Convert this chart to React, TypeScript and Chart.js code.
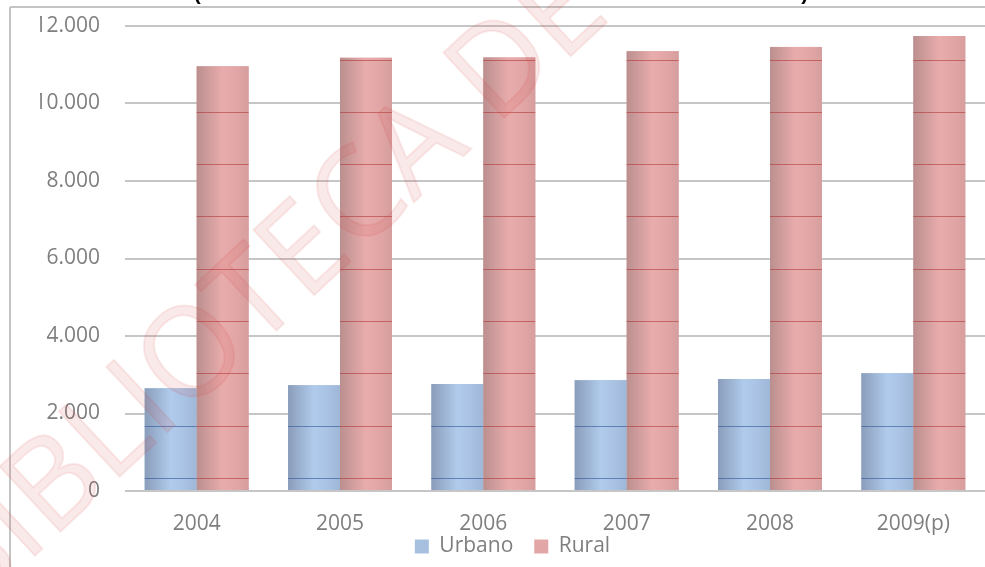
import { useEffect, useRef } from "react";
import { Chart, registerables } from "chart.js";

Chart.register(...registerables);

const categories = ["2004", "2005", "2006", "2007", "2008", "2009(p)"];
const seriesNames = ["Urbano", "Rural"];
const urbano = [2650, 2730, 2760, 2860, 2890, 3040];
const rural = [10960, 11180, 11190, 11350, 11460, 11740];
const yMin = 0;
const yMax = 12000;
const yStep = 2000;
// faint horizontal bands visible inside the bars of the scanned original
const bandLines = [335, 1685, 3035, 4385, 5735, 7085, 8435, 9785, 11135];
const watermarkText = "BIBLIOTECA DE";
const titleText = "(POBLACIÓN URBANA Y RURAL EN MILES DE HABITANTES)";

const fmt = (v: number) => String(v).replace(/\B(?=(\d{3})+(?!\d))/g, ".");

const gradStops: Record<number, [number, string][]> = {
  0: [
    [0, "#8a9dba"],
    [0.5, "#b0cbec"],
    [0.75, "#aac3e4"],
    [1, "#9fb7d7"],
  ],
  1: [
    [0, "#bb8f8f"],
    [0.5, "#e9acac"],
    [0.75, "#e3a6a6"],
    [1, "#d69e9e"],
  ],
};
const bandColors = ["rgba(45,85,150,0.6)", "rgba(175,45,45,0.55)"];

const decorPlugin = {
  id: "decor",
  beforeDraw(chart: any) {
    const ctx = chart.ctx;
    ctx.save();
    ctx.strokeStyle = "#c4c4c4";
    ctx.lineWidth = 2;
    ctx.beginPath();
    ctx.moveTo(10, 7);
    ctx.lineTo(chart.width, 7);
    ctx.moveTo(10, 7);
    ctx.lineTo(10, chart.height);
    ctx.stroke();
    ctx.restore();
  },
  afterDatasetsDraw(chart: any) {
    const ctx = chart.ctx;
    const yScale = chart.scales.y;
    ctx.save();
    chart.data.datasets.forEach((_ds: any, di: number) => {
      const meta = chart.getDatasetMeta(di);
      meta.data.forEach((el: any) => {
        const { x, y, base, width } = el.getProps(["x", "y", "base", "width"], true);
        const left = x - width / 2;
        const g = ctx.createLinearGradient(left, 0, left + width, 0);
        gradStops[di].forEach(([o, c]) => g.addColorStop(o, c));
        ctx.fillStyle = g;
        ctx.fillRect(left, y, width, base - y);
        ctx.strokeStyle = bandColors[di];
        ctx.lineWidth = 1;
        bandLines.forEach((v) => {
          const py = Math.round(yScale.getPixelForValue(v)) + 0.5;
          if (py > y + 1 && py < base) {
            ctx.beginPath();
            ctx.moveTo(left, py);
            ctx.lineTo(left + width, py);
            ctx.stroke();
          }
        });
      });
    });
    ctx.restore();
  },
  afterDraw(chart: any) {
    const ctx = chart.ctx;
    // title, mostly above the visible area
    ctx.save();
    let size = 24;
    ctx.font = `bold ${size}px "Liberation Sans"`;
    const w = ctx.measureText(titleText).width;
    size = (size * 615) / w;
    ctx.font = `bold ${size}px "Liberation Sans"`;
    ctx.fillStyle = "#000";
    ctx.textAlign = "center";
    ctx.textBaseline = "alphabetic";
    ctx.fillText(titleText, 501, 0);
    ctx.restore();
    // watermark
    ctx.save();
    ctx.translate(-33, 619);
    ctx.rotate((-43 * Math.PI) / 180);
    ctx.font = '400 125px "Open Sans"';
    ctx.textAlign = "left";
    ctx.textBaseline = "alphabetic";
    ctx.fillStyle = "rgba(215,70,70,0.12)";
    ctx.fillText(watermarkText, 0, 0);
    ctx.strokeStyle = "rgba(215,70,70,0.10)";
    ctx.lineWidth = 2;
    ctx.strokeText(watermarkText, 0, 0);
    ctx.restore();
  },
};

export default function App() {
  const ref = useRef<HTMLCanvasElement | null>(null);
  useEffect(() => {
    if (!ref.current) return;
    const chart = new Chart(ref.current, {
      type: "bar",
      data: {
        labels: categories,
        datasets: [
          { label: seriesNames[0], data: urbano, backgroundColor: "#a7c0e0", borderWidth: 0 },
          { label: seriesNames[1], data: rural, backgroundColor: "#e3a6a6", borderWidth: 0 },
        ],
      },
      options: {
        animation: false,
        responsive: false,
        devicePixelRatio: 1,
        layout: { padding: { left: 40, right: 0, top: 26, bottom: 0 } },
        datasets: { bar: { categoryPercentage: 0.725, barPercentage: 1.0 } },
        plugins: {
          legend: {
            position: "bottom",
            labels: {
              boxWidth: 14,
              boxHeight: 14,
              padding: 0,
              color: "#7f7f7f",
              font: { family: "Open Sans", size: 21 },
              generateLabels: (chart: any) => {
                const items = Chart.defaults.plugins.legend.labels.generateLabels(chart);
                return items.map((it: any, i: number) =>
                  i < items.length - 1 ? { ...it, text: it.text + "\u2003" } : it
                );
              },
            },
          },
          title: { display: false },
          tooltip: { enabled: false },
        },
        scales: {
          x: {
            grid: { display: false, drawTicks: false },
            border: { display: false },
            ticks: { color: "#7f7f7f", font: { family: "Open Sans", size: 21 }, padding: 20 },
            afterFit: (s: any) => {
              s.height = 45;
            },
          },
          y: {
            min: yMin,
            max: yMax,
            grid: { color: "#c6c6c6", lineWidth: 2, drawTicks: false },
            border: { display: false },
            ticks: {
              stepSize: yStep,
              color: "#7f7f7f",
              font: { family: "Open Sans", size: 21 },
              padding: 25,
              callback: (v: any) => fmt(Number(v)),
            },
            afterFit: (s: any) => {
              s.width = 85;
              s.paddingTop = 0;
              s.paddingBottom = 0;
            },
          },
        },
      },
      plugins: [decorPlugin],
    });
    return () => chart.destroy();
  }, []);
  return (
    <canvas
      ref={ref}
      width={985}
      height={567}
      style={{ position: "absolute", left: 0, top: 0, width: 985, height: 567 }}
    />
  );
}
